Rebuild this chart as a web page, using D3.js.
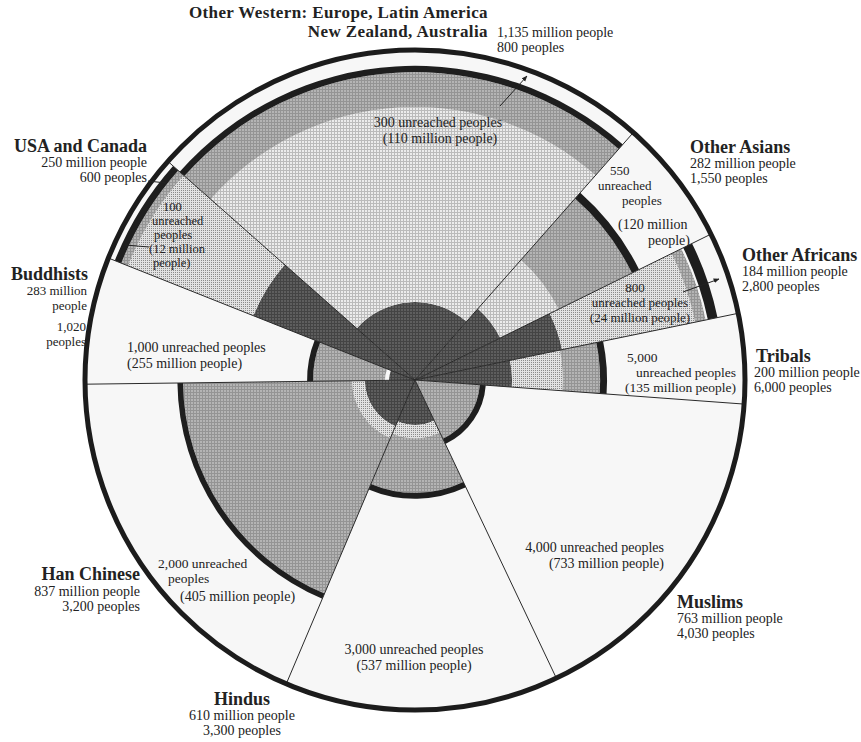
<!DOCTYPE html>
<html>
<head>
<meta charset="utf-8">
<script src="https://cdn.jsdelivr.net/npm/d3@7"></script>
<style>
  body { margin: 0; background: #fff; }
  text { font-family: "Liberation Serif", "DejaVu Serif", serif; fill: #222; }
</style>
</head>
<body>
<svg id="chart"></svg>
<script>
// --- data ---
const groups = ['Other Western', 'Other Asians', 'Other Africans', 'Tribals', 'Muslims',
  'Hindus', 'Han Chinese', 'Buddhists', 'USA and Canada'];
const millionPeople = [1135, 282, 184, 200, 763, 610, 837, 283, 250];
const peoplesCount = [800, 1550, 2800, 6000, 4030, 3300, 3200, 1020, 600];
const unreachedPeoples = [300, 550, 800, 5000, 4000, 3000, 2000, 1000, 100];
const unreachedMillions = [110, 120, 24, 135, 733, 537, 405, 255, 12];

// radial bands of each wedge: [shade, outer edge as share of the radius]
const bands = [
  [['dark', 0.236], ['grid', 0.827], ['medium', 0.933], ['ink', 0.952]],
  [['dark', 0.288], ['grid', 0.485], ['medium', 0.733], ['ink', 0.757]],
  [['dark', 0.455], ['dots', 0.867], ['medium', 0.9], ['white', 0.906], ['ink', 0.936]],
  [['dark', 0.294], ['dots', 0.448], ['medium', 0.561], ['ink', 0.582]],
  [['medium', 0.197], ['ink', 0.215]],
  [['dark', 0.136], ['dots', 0.176], ['medium', 0.342], ['ink', 0.36]],
  [['dark', 0.152], ['dots', 0.191], ['medium', 0.703], ['ink', 0.72]],
  [['dark', 0.079], ['white', 0.091], ['medium', 0.309], ['ink', 0.327]],
  [['dark', 0.527], ['dots', 0.936], ['medium', 0.958], ['ink', 0.979]]
];

const width = 861;
const height = 742;
const cx = 415, cy = 380;
const radius = 330;

const fmt = d3.format(',');

const svg = d3.select('#chart')
  .attr('width', width)
  .attr('height', height);

// halftone-like fills of the scanned print
const defs = svg.append('defs');
function gridPattern(id, base, ink) {
  const p = defs.append('pattern').attr('id', id)
    .attr('patternUnits', 'userSpaceOnUse').attr('width', 3).attr('height', 3);
  p.append('rect').attr('width', 3).attr('height', 3).attr('fill', base);
  p.append('rect').attr('width', 3).attr('height', 1).attr('fill', ink);
  p.append('rect').attr('width', 1).attr('height', 3).attr('fill', ink);
}
gridPattern('dark', '#5e5e5e', '#444444');
gridPattern('medium', '#b4b4b4', '#949494');
gridPattern('grid', '#ececec', '#bbbbbb');
const dp = defs.append('pattern').attr('id', 'dots')
  .attr('patternUnits', 'userSpaceOnUse').attr('width', 2).attr('height', 2);
dp.append('rect').attr('width', 2).attr('height', 2).attr('fill', '#e2e2e2');
dp.append('rect').attr('width', 1).attr('height', 1).attr('fill', '#8a8a8a');

defs.append('marker').attr('id', 'arrow')
  .attr('viewBox', '0 0 10 10').attr('refX', 9).attr('refY', 5)
  .attr('markerWidth', 6).attr('markerHeight', 6).attr('orient', 'auto')
  .append('path').attr('d', 'M0,1L10,5L0,9z').attr('fill', '#222');

const fills = { dark: 'url(#dark)', medium: 'url(#medium)', grid: 'url(#grid)',
  dots: 'url(#dots)', white: '#f7f7f7', ink: '#1e1e1e' };

const r = d3.scaleLinear().domain([0, 1]).range([0, radius]);

const start = -48.5 * Math.PI / 180;
const pie = d3.pie().sort(null).value(d => d)
  .startAngle(start).endAngle(start + 2 * Math.PI);
const slices = pie(millionPeople);

const g = svg.append('g').attr('transform', `translate(${cx},${cy})`);

g.append('circle').attr('r', radius).attr('fill', '#f7f7f7');

const arc = d3.arc();
slices.forEach((s, i) => {
  let inner = 0;
  bands[i].forEach(([shade, edge]) => {
    g.append('path')
      .attr('d', arc({ innerRadius: r(inner), outerRadius: r(edge),
        startAngle: s.startAngle, endAngle: s.endAngle }))
      .attr('fill', fills[shade]);
    inner = edge;
  });
});

// wedge boundaries
slices.forEach(s => {
  g.append('line')
    .attr('x1', 0).attr('y1', 0)
    .attr('x2', r(1) * Math.sin(s.startAngle))
    .attr('y2', -r(1) * Math.cos(s.startAngle))
    .style('stroke', '#2a2a2a')
    .style('stroke-width', '1px');
});

// outer ring
g.append('circle').attr('r', radius)
  .attr('fill', 'none').style('stroke', '#1c1c1c').style('stroke-width', '5px');

// --- labels ---
function fill(t, i) {
  return t.replace('{name}', groups[i])
    .replace('{p}', fmt(millionPeople[i]))
    .replace('{n}', fmt(peoplesCount[i]))
    .replace('{u}', fmt(unreachedPeoples[i]))
    .replace('{m}', fmt(unreachedMillions[i]));
}

// outer labels: [text, x, baseline, anchor, size, bold]
const outerLabels = [
  [['{name}: Europe, Latin America', 488, 18, 'end', 17, 1], ['New Zealand, Australia', 488, 37, 'end', 17, 1],
   ['{p} million people', 497, 37, 'start', 14], ['{n} peoples', 497, 52, 'start', 14]],
  [['{name}', 690, 153, 'start', 18, 1], ['{p} million people', 690, 168, 'start', 14], ['{n} peoples', 690, 183, 'start', 14]],
  [['{name}', 742, 261, 'start', 18, 1], ['{p} million people', 742, 276, 'start', 14], ['{n} peoples', 742, 291, 'start', 14]],
  [['{name}', 756, 362, 'start', 18, 1], ['{p} million people', 754, 377, 'start', 14], ['{n} peoples', 754, 392, 'start', 14]],
  [['{name}', 677, 608, 'start', 18, 1], ['{p} million people', 677, 623, 'start', 14], ['{n} peoples', 677, 638, 'start', 14]],
  [['{name}', 242, 705, 'middle', 18, 1], ['{p} million people', 242, 720, 'middle', 14], ['{n} peoples', 242, 735, 'middle', 14]],
  [['{name}', 140, 580, 'end', 18, 1], ['{p} million people', 140, 596, 'end', 14], ['{n} peoples', 140, 611, 'end', 14]],
  [['{name}', 88, 280, 'end', 18, 1], ['{p} million', 87, 295, 'end', 13], ['people', 87, 310, 'end', 13],
   ['{n}', 86, 331, 'end', 13], ['peoples', 86, 346, 'end', 13]],
  [['{name}', 147, 152, 'end', 18, 1], ['{p} million people', 147, 167, 'end', 14], ['{n} peoples', 147, 182, 'end', 14]]
];

// labels inside the wedges: [text, x, baseline, anchor, size]
const innerLabels = [
  [['{u} unreached peoples', 438, 127, 'middle', 14], ['({m} million people)', 440, 143, 'middle', 14]],
  [['{u}', 610, 175, 'start', 13], ['unreached', 598, 190, 'start', 13], ['peoples', 622, 205, 'start', 13],
   ['({m} million', 618, 229, 'start', 14], ['people)', 648, 245, 'start', 14]],
  [['{u}', 635, 292, 'middle', 13], ['unreached peoples', 640, 307, 'middle', 13], ['({m} million people)', 640, 322, 'middle', 13]],
  [['{u}', 627, 362, 'start', 13.5], ['unreached peoples', 736, 377, 'end', 13.5], ['({m} million people)', 736, 392, 'end', 13.5]],
  [['{u} unreached peoples', 664, 552, 'end', 14], ['({m} million people)', 664, 568, 'end', 14]],
  [['{u} unreached peoples', 414, 654, 'middle', 14], ['({m} million people)', 414, 670, 'middle', 14]],
  [['{u} unreached', 158, 568, 'start', 13.5], ['peoples', 168, 583, 'start', 13.5], ['({m} million people)', 180, 601, 'start', 14]],
  [['{u} unreached peoples', 127, 352, 'start', 14], ['({m} million people)', 127, 368, 'start', 14]],
  [['{u}', 163, 211, 'start', 12.5], ['unreached', 152, 225, 'start', 12.5], ['peoples', 154, 239, 'start', 12.5],
   ['({m} million', 149, 253, 'start', 12.5], ['people)', 153, 267, 'start', 12.5]]
];

function drawLines(lines, i) {
  lines.forEach(([t, x, y, anchor, size, bold]) => {
    svg.append('text')
      .attr('x', x).attr('y', y)
      .attr('text-anchor', anchor)
      .style('font-size', size + 'px')
      .style('font-weight', bold ? 'bold' : 'normal')
      .style('letter-spacing', size === 17 ? '0.4px' : null)
      .text(fill(t, i));
  });
}
outerLabels.forEach(drawLines);
innerLabels.forEach(drawLines);

// leader lines
const leaders = [
  [500, 106, 527, 76, true],
  [683, 292, 719, 279, true],
  [149, 247, 125, 245, false],
  [148, 181, 166, 183, false]
];
leaders.forEach(([x1, y1, x2, y2, head]) => {
  svg.append('line')
    .attr('x1', x1).attr('y1', y1).attr('x2', x2).attr('y2', y2)
    .attr('marker-end', head ? 'url(#arrow)' : null)
    .style('stroke', '#222')
    .style('stroke-width', '1px');
});
</script>
</body>
</html>
